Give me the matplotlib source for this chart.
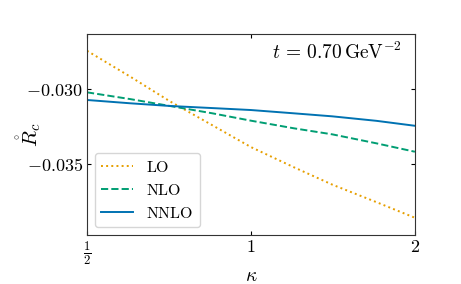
import numpy as np
import matplotlib
matplotlib.use('Agg')
import matplotlib.pyplot as plt

plt.rcParams['mathtext.fontset'] = 'cm'
plt.rcParams['font.family'] = 'serif'
plt.rcParams['font.serif'] = ['cmr10']
plt.rcParams['axes.unicode_minus'] = False

kappa = [0.5, 0.6, 0.71, 0.85, 1.0, 1.2, 1.41, 1.7, 2.0]
r_lo = [-0.02743, -0.02915, -0.03080, -0.03240, -0.03385, -0.03520, -0.03635, -0.03752, -0.03856]
r_nlo = [-0.03020, -0.03065, -0.03111, -0.03160, -0.03209, -0.03260, -0.03300, -0.03360, -0.03416]
r_nnlo = [-0.03071, -0.03093, -0.03111, -0.03125, -0.03138, -0.03160, -0.03180, -0.03210, -0.03243]

x_ticks = [0.5, 1, 2]
x_ticklabels = [r'$\frac{1}{2}$', r'$1$', r'$2$']
y_ticks = [-0.030, -0.035]
y_ticklabels = [r'$-0.030$', r'$-0.035$']

fig = plt.figure(figsize=(4.61, 2.84), dpi=100)
ax = fig.add_axes([0.1887, 0.1725, 0.9 - 0.1887, 0.882 - 0.1725])

ax.plot(kappa, r_lo, ls=':', color='#E69F00', lw=1.4, label=r'$\mathrm{LO}$')
ax.plot(kappa, r_nlo, ls='--', color='#009E73', lw=1.4, label=r'$\mathrm{NLO}$')
ax.plot(kappa, r_nnlo, ls='-', color='#0072B2', lw=1.4, label=r'$\mathrm{NNLO}$')

ax.set_xscale('log')
ax.set_xlim(0.5, 2)
ax.set_ylim(-0.03971, -0.02628)
ax.set_xticks(x_ticks)
ax.set_xticklabels(x_ticklabels)
ax.minorticks_off()
ax.set_yticks(y_ticks)
ax.set_yticklabels(y_ticklabels)
ax.tick_params(direction='in', length=3, width=0.8, top=True, right=True,
               labelsize=13, pad=3)

for s in ax.spines.values():
    s.set_linewidth(0.8)
    s.set_color('#333333')

ax.set_xlabel(r'$\kappa$', fontsize=14)
ax.set_ylabel(r'$\mathring{R}_c$', fontsize=15)
ax.xaxis.set_label_coords(0.5, -0.16)
ax.yaxis.set_label_coords(-0.135, 0.5)

ax.text(0.96, 0.96, r'$t\,=\,0.70\,\mathrm{GeV}^{-2}$', transform=ax.transAxes,
        ha='right', va='top', fontsize=14)

ax.legend(loc='lower left', fontsize=11.5, handlelength=2.0, borderaxespad=0.5)

fig.savefig('out.png', dpi=100)
